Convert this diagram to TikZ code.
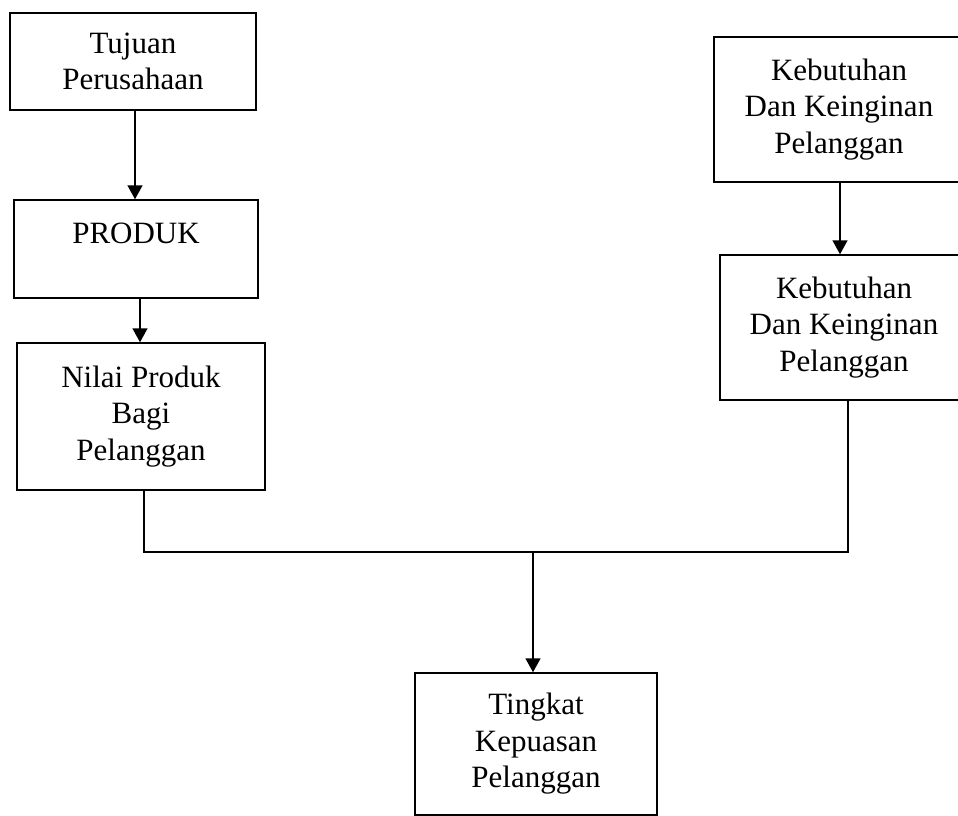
\documentclass[tikz,border=0pt]{standalone}
\usepackage{fontspec}
\setmainfont{Liberation Serif}
\usetikzlibrary{arrows.meta}
\begin{document}
\begin{tikzpicture}[x=1pt,y=-1pt,
  box/.style={draw, line width=1.5pt, rectangle, align=center, inner sep=0pt,
    font=\fontsize{31}{36.5}\selectfont},
  conn/.style={line width=1.5pt},
  arr/.style={line width=1.5pt, -{Triangle[length=14pt,width=15pt]}}]
\clip (0,0) rectangle (958,816);
\fill[white] (0,0) rectangle (958,816);
\node[box, minimum width=246pt, minimum height=97pt] (tujuan) at (133,61.5) {Tujuan\\Perusahaan};
\node[box, minimum width=244pt, minimum height=98pt, text height=21pt, text depth=32pt] (produk) at (136,249) {PRODUK};
\node[box, minimum width=248pt, minimum height=147pt] (nilai) at (141,416.5) {Nilai Produk\\Bagi\\Pelanggan};
\node[box, minimum width=250pt, minimum height=145pt] (keb1) at (839,109.5) {Kebutuhan\\Dan Keinginan\\Pelanggan};
\node[box, minimum width=248pt, minimum height=145pt] (keb2) at (844,327.5) {Kebutuhan\\Dan Keinginan\\Pelanggan};
\node[box, minimum width=242pt, minimum height=142pt] (tingkat) at (536,744) {Tingkat\\Kepuasan\\Pelanggan};
\coordinate (j) at (533,552);
\draw[arr] ([xshift=2pt]tujuan.south) -- ([xshift=2pt]tujuan.south |- produk.north);
\draw[arr] ([xshift=4pt]produk.south) -- ([xshift=4pt]produk.south |- nilai.north);
\draw[arr] ([xshift=1pt]keb1.south) -- ([xshift=1pt]keb1.south |- keb2.north);
\draw[conn] ([xshift=3pt]nilai.south) |- (j) -| ([xshift=4pt]keb2.south);
\draw[arr] (j) -- (j |- tingkat.north);
\end{tikzpicture}
\end{document}
